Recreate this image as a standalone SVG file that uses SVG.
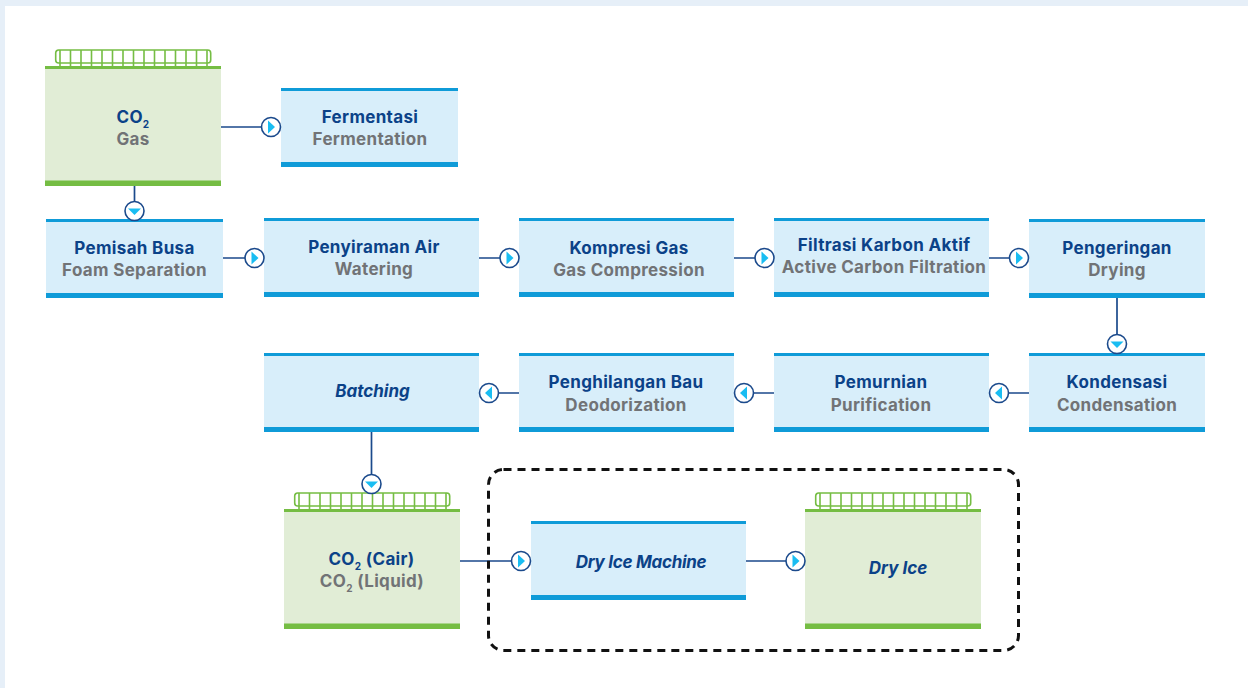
<svg xmlns="http://www.w3.org/2000/svg" width="1248" height="688" viewBox="0 0 1248 688">
<style>
text{font-family:Inter,"Noto Sans","Liberation Sans",sans-serif;font-size:17px;font-weight:700;text-anchor:middle;letter-spacing:.33px}
.a{fill:#0b4288}.b{fill:#717376}.i{font-style:italic;letter-spacing:0}
.s{font-size:10px}
.bf{fill:#d8eefa}.bb{fill:#0f9bd8}.gf{fill:#e1edd6}.gb{fill:#75bd43}
.c{stroke:#1b4a8c;stroke-width:1.700;fill:none}
.k{fill:#fff;stroke:#1b4a8c;stroke-width:1.600}.t{fill:#19bdf2}
.g{fill:none;stroke:#75bd43;stroke-width:1.600}
</style>
<defs>
<g id="lid"><rect class="g" x="0.700" y="0" width="155" height="13" rx="3"/><path class="g" d="M5 0V16M15.500 0V16M26 0V16M36.500 0V16M47 0V16M57.500 0V16M68 0V16M78.500 0V16M89 0V16M99.500 0V16M110 0V16M120.500 0V16M131 0V16M141.500 0V16M152 0V16"/></g>
<g id="r"><circle class="k" r="9.500"/><path class="t" d="M-3-6.500L4 0L-3 6.500Z"/></g>
<g id="l"><circle class="k" r="9.500"/><path class="t" d="M3-6.500L-4 0L3 6.500Z"/></g>
<g id="d"><circle class="k" r="9.500"/><path class="t" d="M-6.500-2.500L6.500-2.500L0 4Z"/></g>
</defs>
<rect width="1248" height="688" fill="#fff"/>
<path d="M0 0H1248V6H5V688H0Z" fill="#e6eff8"/>
<g id="connectors">
<path class="c" d="M221 127H262M134.500 186V202M223 258H245M479 258H500M734 258H755M989 258H1010M1117 298V335M1029 393H1008M774 393H753M519 393H498M371.500 432V475M460 561H512M746 561H786"/>
<rect x="488.500" y="469.500" width="530" height="181" rx="15" fill="none" stroke="#111" stroke-width="3" stroke-dasharray="8 6"/>
</g>
<g id="n-co2gas"><use href="#lid" x="55" y="50"/><rect class="gf" x="45" y="66" width="176" height="120"/><rect class="gb" x="45" y="66" width="176" height="3"/><rect class="gb" x="45" y="180.500" width="176" height="5.500"/><text x="133" y="123" class="a">CO<tspan class="s" dy="5">2</tspan></text><text x="133" y="145" class="b">Gas</text></g>
<g id="n-fermentasi"><rect class="bf" x="281" y="88" width="177" height="79"/><rect class="bb" x="281" y="88" width="177" height="3"/><rect class="bb" x="281" y="162" width="177" height="5"/><text x="370" y="123" class="a">Fermentasi</text><text x="370" y="145" class="b">Fermentation</text></g>
<g id="n-busa"><rect class="bf" x="46" y="219" width="177" height="79"/><rect class="bb" x="46" y="219" width="177" height="3"/><rect class="bb" x="46" y="293" width="177" height="5"/><text x="134.500" y="254" class="a">Pemisah Busa</text><text x="134.500" y="276" class="b">Foam Separation</text></g>
<g id="n-air"><rect class="bf" x="264" y="218" width="215" height="79"/><rect class="bb" x="264" y="218" width="215" height="3"/><rect class="bb" x="264" y="292" width="215" height="5"/><text x="374" y="253" class="a">Penyiraman Air</text><text x="374" y="275" class="b">Watering</text></g>
<g id="n-kompresi"><rect class="bf" x="519" y="218" width="215" height="79"/><rect class="bb" x="519" y="218" width="215" height="3"/><rect class="bb" x="519" y="292" width="215" height="5"/><text x="629" y="254" class="a">Kompresi Gas</text><text x="629" y="276" class="b">Gas Compression</text></g>
<g id="n-karbon"><rect class="bf" x="774" y="218" width="215" height="79"/><rect class="bb" x="774" y="218" width="215" height="3"/><rect class="bb" x="774" y="292" width="215" height="5"/><text x="884" y="251" class="a">Filtrasi Karbon Aktif</text><text x="884" y="273" class="b">Active Carbon Filtration</text></g>
<g id="n-drying"><rect class="bf" x="1029" y="219" width="176" height="79"/><rect class="bb" x="1029" y="219" width="176" height="3"/><rect class="bb" x="1029" y="293" width="176" height="5"/><text x="1117" y="254" class="a">Pengeringan</text><text x="1117" y="276" class="b">Drying</text></g>
<g id="n-kondensasi"><rect class="bf" x="1029" y="353" width="176" height="79"/><rect class="bb" x="1029" y="353" width="176" height="3"/><rect class="bb" x="1029" y="427" width="176" height="5"/><text x="1117" y="388" class="a">Kondensasi</text><text x="1117" y="411" class="b">Condensation</text></g>
<g id="n-pemurnian"><rect class="bf" x="774" y="353" width="215" height="79"/><rect class="bb" x="774" y="353" width="215" height="3"/><rect class="bb" x="774" y="427" width="215" height="5"/><text x="881" y="388" class="a">Pemurnian</text><text x="881" y="411" class="b">Purification</text></g>
<g id="n-bau"><rect class="bf" x="519" y="353" width="215" height="79"/><rect class="bb" x="519" y="353" width="215" height="3"/><rect class="bb" x="519" y="427" width="215" height="5"/><text x="626" y="388" class="a">Penghilangan Bau</text><text x="626" y="411" class="b">Deodorization</text></g>
<g id="n-batching"><rect class="bf" x="264" y="353" width="215" height="79"/><rect class="bb" x="264" y="353" width="215" height="3"/><rect class="bb" x="264" y="427" width="215" height="5"/><text x="372.500" y="397" class="a i">Batching</text></g>
<g id="n-cair"><use href="#lid" x="294" y="493"/><rect class="gf" x="284" y="509" width="176" height="120"/><rect class="gb" x="284" y="509" width="176" height="3"/><rect class="gb" x="284" y="623.500" width="176" height="5.500"/><text x="371.500" y="565" class="a">CO<tspan class="s" dy="5">2</tspan><tspan dy="-5"> (Cair)</tspan></text><text x="372" y="587" class="b">CO<tspan class="s" dy="5">2</tspan><tspan dy="-5"> (Liquid)</tspan></text></g>
<g id="n-machine"><rect class="bf" x="531" y="521" width="215" height="79"/><rect class="bb" x="531" y="521" width="215" height="3"/><rect class="bb" x="531" y="595" width="215" height="5"/><text x="641" y="568" class="a i" style="letter-spacing:-.28px">Dry Ice Machine</text></g>
<g id="n-dryice"><use href="#lid" x="815" y="493"/><rect class="gf" x="805" y="509" width="176" height="120"/><rect class="gb" x="805" y="509" width="176" height="3"/><rect class="gb" x="805" y="623.500" width="176" height="5.500"/><text x="898" y="574" class="a i">Dry Ice</text></g>
<g id="markers">
<use href="#r" x="271" y="127"/><use href="#d" x="134.500" y="211"/><use href="#r" x="254.500" y="258"/><use href="#r" x="509.500" y="258"/><use href="#r" x="764.500" y="258"/><use href="#r" x="1019" y="258"/><use href="#d" x="1117" y="344"/><use href="#l" x="999" y="393"/><use href="#l" x="744" y="393"/><use href="#l" x="489" y="393"/><use href="#d" x="371.500" y="484"/><use href="#r" x="521" y="561"/><use href="#r" x="795.500" y="561"/>
</g>
</svg>
